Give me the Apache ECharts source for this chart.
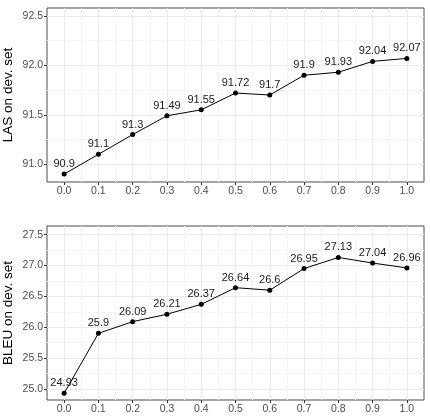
<!DOCTYPE html>
<html>
<head>
<meta charset="utf-8">
<script src="https://cdn.jsdelivr.net/npm/echarts@6/dist/echarts.min.js"></script>
<style>
  html, body { margin: 0; padding: 0; background: #fff; }
  #chart { width: 431px; height: 418px; }
</style>
</head>
<body>
<div id="chart"></div>
<script>
// x 值 (比例)
var ratios = [0.0, 0.1, 0.2, 0.3, 0.4, 0.5, 0.6, 0.7, 0.8, 0.9, 1.0];
var lasValues = [90.9, 91.1, 91.3, 91.49, 91.55, 91.72, 91.7, 91.9, 91.93, 92.04, 92.07];
var bleuValues = [24.93, 25.9, 26.09, 26.21, 26.37, 26.64, 26.6, 26.95, 27.13, 27.04, 26.96];

// 刻度
var xTicks = [0.0, 0.1, 0.2, 0.3, 0.4, 0.5, 0.6, 0.7, 0.8, 0.9, 1.0];
var xMinor = [0.05, 0.15, 0.25, 0.35, 0.45, 0.55, 0.65, 0.75, 0.85, 0.95];
var lasTicks = [91.0, 91.5, 92.0, 92.5];
var lasMinor = [91.25, 91.75, 92.25];
var bleuTicks = [25.0, 25.5, 26.0, 26.5, 27.0, 27.5];
var bleuMinor = [25.25, 25.75, 26.25, 26.75, 27.25];

var FONT = '"Liberation Sans", Arial, Helvetica, sans-serif';

var pairs = function (xs, ys) {
  return xs.map(function (x, i) { return [x, ys[i]]; });
};

var majorAxis = function (grid, pos, min, max, ticks, extra) {
  return Object.assign({
    gridIndex: grid,
    position: pos,
    type: 'value',
    min: min,
    max: max,
    axisLine: { show: false, onZero: false },
    axisTick: {
      show: true,
      length: 3,
      customValues: ticks,
      lineStyle: { color: '#333333', width: 1 }
    },
    axisLabel: {
      customValues: ticks,
      color: '#4d4d4d',
      fontSize: 10.5,
      fontFamily: FONT,
      margin: 4,
      formatter: function (v) { return v.toFixed(1); }
    },
    splitLine: { show: true, lineStyle: { color: '#ebebeb', width: 1 } }
  }, extra || {});
};

var minorAxis = function (grid, pos, min, max, ticks) {
  return {
    gridIndex: grid,
    position: pos,
    type: 'value',
    min: min,
    max: max,
    axisLine: { show: false, onZero: false },
    axisTick: { show: false, customValues: ticks },
    axisLabel: { show: false, customValues: ticks },
    splitLine: { show: true, lineStyle: { color: '#f5f5f5', width: 1 } }
  };
};

var yName = function (name) {
  return {
    name: name,
    nameLocation: 'middle',
    nameGap: 32,
    nameMoveOverlap: false,
    nameTextStyle: { color: '#000', fontSize: 13.5, fontFamily: FONT }
  };
};

var lineSeries = function (xi, yi, data) {
  return {
    type: 'line',
    xAxisIndex: xi,
    yAxisIndex: yi,
    data: data,
    symbol: 'circle',
    symbolSize: 5,
    itemStyle: { color: '#000' },
    lineStyle: { color: '#000', width: 1 },
    label: {
      show: true,
      position: 'top',
      distance: 2,
      color: '#1a1a1a',
      fontSize: 11,
      fontFamily: FONT,
      formatter: function (p) { return String(p.value[1]); }
    },
    animation: false,
    z: 5
  };
};

var myChart = echarts.init(document.getElementById('chart'));
var option = {
  animation: false,
  backgroundColor: '#fff',
  grid: [
    { left: 47, top: 8, right: 7, height: 174, outerBoundsMode: 'none', show: true, borderColor: '#4d4d4d', borderWidth: 1, backgroundColor: 'transparent' },
    { left: 47, top: 226, right: 7, height: 174, outerBoundsMode: 'none', show: true, borderColor: '#4d4d4d', borderWidth: 1, backgroundColor: 'transparent' }
  ],
  xAxis: [
    minorAxis(0, 'bottom', -0.05, 1.05, xMinor),
    majorAxis(0, 'bottom', -0.05, 1.05, xTicks),
    minorAxis(1, 'bottom', -0.05, 1.05, xMinor),
    majorAxis(1, 'bottom', -0.05, 1.05, xTicks)
  ],
  yAxis: [
    minorAxis(0, 'left', 90.82, 92.58, lasMinor),
    majorAxis(0, 'left', 90.82, 92.58, lasTicks, yName('LAS on dev. set')),
    minorAxis(1, 'left', 24.82, 27.64, bleuMinor),
    majorAxis(1, 'left', 24.82, 27.64, bleuTicks, yName('BLEU on dev. set'))
  ],
  series: [
    lineSeries(1, 1, pairs(ratios, lasValues)),
    lineSeries(3, 3, pairs(ratios, bleuValues))
  ]
};
myChart.setOption(option);
</script>
</body>
</html>
